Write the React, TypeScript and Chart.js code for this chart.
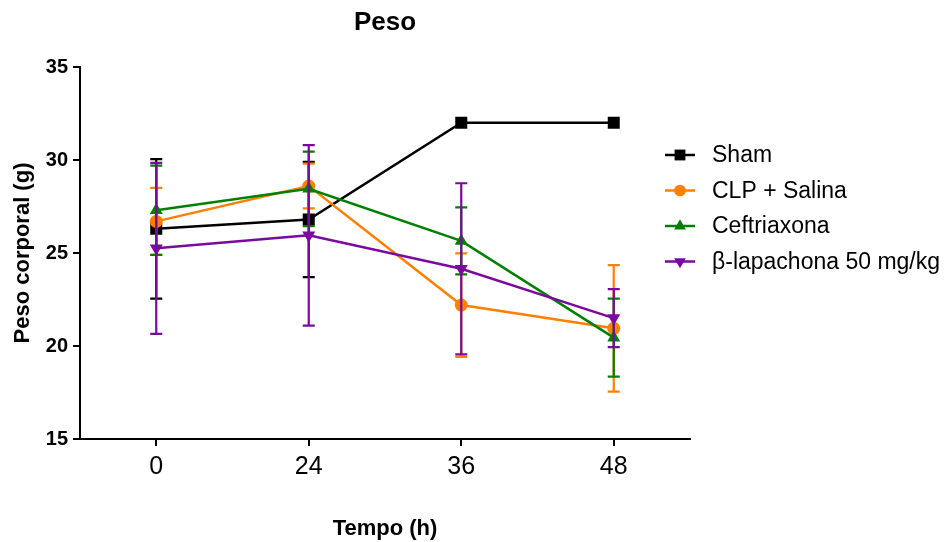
import React, { useEffect, useRef } from 'react';
import { Chart, registerables } from 'chart.js';

Chart.register(...registerables);

// ---- data ----
const categories = ['0', '24', '36', '48'];
const seriesNames = ['Sham', 'CLP + Salina', 'Ceftriaxona', 'β-lapachona 50 mg/kg'];
const shamMean = [26.3, 26.8, 32.0, 32.0];
const shamErr = [3.75, 3.1, 0, 0];
const clpMean = [26.7, 28.6, 22.2, 20.95];
const clpErr = [1.8, 1.2, 2.78, 3.4];
const cefMean = [27.3, 28.45, 25.65, 20.45];
const cefErr = [2.4, 2.0, 1.8, 2.1];
const betaMean = [25.25, 25.95, 24.15, 21.5];
const betaErr = [4.6, 4.85, 4.6, 1.56];
const yTickValues = [15, 20, 25, 30, 35];

const FONT = "'Liberation Sans', Arial, Helvetica, sans-serif";

const colors = ['#000000', '#FF8000', '#008000', '#7A0A9E'];
const pointStyles = ['rect', 'circle', 'triangle', 'triangle'];
const pointRotations = [0, 0, 0, 180];
const pointRadii = [8.5, 6.5, 7.5, 7.5];
const drawOrders = [4, 3, 2, 1];

function drawMarker(ctx: CanvasRenderingContext2D, style: string, x: number, y: number, r: number, rot: number, color: string) {
  ctx.save();
  ctx.fillStyle = color;
  ctx.beginPath();
  if (style === 'rect') {
    const s = Math.SQRT1_2 * r;
    ctx.rect(x - s, y - s, 2 * s, 2 * s);
  } else if (style === 'circle') {
    ctx.arc(x, y, r, 0, Math.PI * 2);
  } else {
    let rad = (rot * Math.PI) / 180;
    ctx.moveTo(x + Math.sin(rad) * r, y - Math.cos(rad) * r);
    rad += (2 * Math.PI) / 3;
    ctx.lineTo(x + Math.sin(rad) * r, y - Math.cos(rad) * r);
    rad += (2 * Math.PI) / 3;
    ctx.lineTo(x + Math.sin(rad) * r, y - Math.cos(rad) * r);
    ctx.closePath();
  }
  ctx.fill();
  ctx.restore();
}

const errorBarPlugin = {
  id: 'errorBars',
  beforeDatasetDraw(chart: any, args: any) {
    const ds = chart.data.datasets[args.index];
    const errs: number[] = ds.errors;
    if (!errs) return;
    const yScale = chart.scales.y;
    const ctx: CanvasRenderingContext2D = chart.ctx;
    ctx.save();
    ctx.strokeStyle = ds.borderColor;
    ctx.lineWidth = 2.2;
    args.meta.data.forEach((pt: any, i: number) => {
      const e = errs[i];
      if (!e) return;
      const v = ds.data[i];
      const yt = yScale.getPixelForValue(v + e);
      const yb = yScale.getPixelForValue(v - e);
      ctx.beginPath();
      ctx.moveTo(pt.x, yt);
      ctx.lineTo(pt.x, yb);
      ctx.moveTo(pt.x - 6, yt);
      ctx.lineTo(pt.x + 6, yt);
      ctx.moveTo(pt.x - 6, yb);
      ctx.lineTo(pt.x + 6, yb);
      ctx.stroke();
    });
    ctx.restore();
  },
};

const titleLegendPlugin = {
  id: 'titleLegend',
  afterDraw(chart: any) {
    const ctx: CanvasRenderingContext2D = chart.ctx;
    const area = chart.chartArea;
    ctx.save();
    ctx.fillStyle = '#000';
    ctx.font = `bold 26px ${FONT}`;
    ctx.textAlign = 'center';
    ctx.textBaseline = 'middle';
    ctx.fillText('Peso', (area.left + area.right) / 2, 23);

    const lx = area.right + 0;
    chart.data.datasets.forEach((ds: any, i: number) => {
      const y = 155 + i * 35.5;
      ctx.strokeStyle = ds.borderColor;
      ctx.lineWidth = 2.5;
      ctx.beginPath();
      ctx.moveTo(lx - 25, y);
      ctx.lineTo(lx + 5, y);
      ctx.stroke();
      drawMarker(ctx, pointStyles[i], lx - 10, y, pointRadii[i] * 0.9, pointRotations[i], ds.borderColor);
      ctx.fillStyle = '#000';
      ctx.font = `23px ${FONT}`;
      ctx.textAlign = 'left';
      ctx.textBaseline = 'middle';
      ctx.fillText(ds.label, lx + 22, y + 1);
    });
    ctx.restore();
  },
};

const means = [shamMean, clpMean, cefMean, betaMean];
const errs = [shamErr, clpErr, cefErr, betaErr];

export default function App() {
  const ref = useRef<HTMLCanvasElement | null>(null);
  useEffect(() => {
    if (!ref.current) return;
    Chart.defaults.font.family = FONT;
    Chart.defaults.color = '#000';
    const chart = new Chart(ref.current, {
      type: 'line',
      data: {
        labels: categories,
        datasets: seriesNames.map((name, i) => ({
          label: name,
          data: means[i],
          errors: errs[i],
          borderColor: colors[i],
          backgroundColor: colors[i],
          pointBackgroundColor: colors[i],
          pointBorderColor: colors[i],
          pointBorderWidth: 0,
          pointStyle: pointStyles[i],
          pointRotation: pointRotations[i],
          pointRadius: pointRadii[i],
          borderWidth: 2.5,
          tension: 0,
          fill: false,
          order: drawOrders[i],
        })) as any,
      },
      options: {
        responsive: false,
        animation: false,
        events: [],
        layout: { padding: { top: 67, right: 255, bottom: 0, left: 0 } },
        plugins: {
          legend: { display: false },
          title: { display: false },
          tooltip: { enabled: false },
        },
        scales: {
          x: {
            type: 'category',
            offset: true,
            grid: {
              display: true,
              drawOnChartArea: false,
              drawTicks: true,
              tickLength: 7,
              color: '#000',
              lineWidth: 2,
              offset: false,
            },
            border: { display: true, color: '#000', width: 2 },
            ticks: { font: { size: 25 }, color: '#000', padding: 6, maxRotation: 0 },
            title: {
              display: true,
              text: 'Tempo (h)',
              font: { size: 22, weight: 'bold' },
              color: '#000',
              padding: { top: 0, bottom: 0 },
            },
            afterFit: (s: any) => {
              s.height = 103;
            },
          },
          y: {
            min: 15,
            max: 35,
            afterBuildTicks: (s: any) => {
              s.ticks = yTickValues.map((v) => ({ value: v }));
            },
            grid: {
              display: true,
              drawOnChartArea: false,
              drawTicks: true,
              tickLength: 7,
              color: '#000',
              lineWidth: 2,
            },
            border: { display: true, color: '#000', width: 2 },
            ticks: { font: { size: 20, weight: 'bold' }, color: '#000', padding: 5 },
            title: {
              display: true,
              text: 'Peso corporal (g)',
              font: { size: 22, weight: 'bold' },
              color: '#000',
              padding: { top: 10, bottom: 0 },
            },
            afterFit: (s: any) => {
              s.width = 80;
            },
          },
        },
      } as any,
      plugins: [errorBarPlugin, titleLegendPlugin],
    });
    return () => chart.destroy();
  }, []);

  return (
    <div style={{ position: 'fixed', left: 0, top: 0, width: 945, height: 542, background: '#fff' }}>
      <canvas ref={ref} width={945} height={542} style={{ display: 'block', width: 945, height: 542 }} />
    </div>
  );
}
